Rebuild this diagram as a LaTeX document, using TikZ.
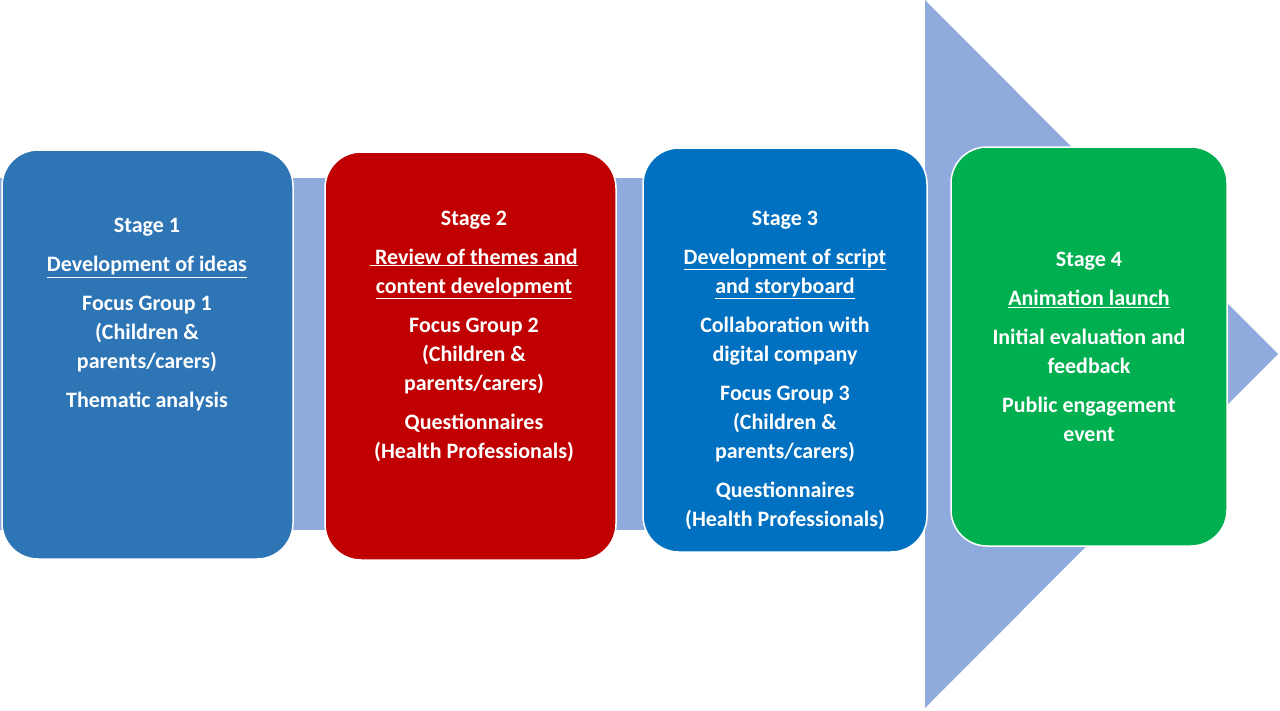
\documentclass[tikz,border=0pt]{standalone}
\usepackage{fontspec}
\setmainfont{Carlito}
\begin{document}
\begin{tikzpicture}[x=1pt,y=-1pt,
  box/.style={draw=white,line width=1.5pt,rounded corners=36pt},
  txt/.style={text=white,align=center,font=\bfseries\fontsize{22}{29}\selectfont}]
\definecolor{arr}{RGB}{143,170,220}
\definecolor{c1}{RGB}{46,117,182}
\definecolor{c2}{RGB}{192,0,0}
\definecolor{c3}{RGB}{0,112,192}
\definecolor{c4}{RGB}{0,176,80}
\useasboundingbox (0,0) rectangle (1280,710);
\fill[arr] (0,178) rectangle (926,530);
\fill[arr] (925,0) -- (1278,354) -- (925,708) -- cycle;
\filldraw[box,fill=c1] (2,150) rectangle (293,559);
\filldraw[box,fill=c2] (325,152) rectangle (616,560);
\filldraw[box,fill=c3] (643,148) rectangle (927,552);
\filldraw[box,fill=c4] (951,147) rectangle (1227,546);
\node[txt] (t1) at (147,315) {Stage 1\\[10pt]\underline{Development of ideas}\\[10pt]Focus Group 1\\(Children \&\\parents/carers)\\[10pt]Thematic analysis};
\node[txt] (t2) at (474,336) {Stage 2\\[10pt]\underline{\ Review of themes and}\\\underline{content development}\\[10pt]Focus Group 2\\(Children \&\\parents/carers)\\[10pt]Questionnaires\\(Health Professionals)};
\node[txt] (t3) at (785,370) {Stage 3\\[10pt]\underline{Development of script}\\\underline{and storyboard}\\[10pt]Collaboration with\\digital company\\[10pt]Focus Group 3\\(Children \&\\parents/carers)\\[10pt]Questionnaires\\(Health Professionals)};
\node[txt] (t4) at (1089,347) {Stage 4\\[10pt]\underline{Animation launch}\\[10pt]Initial evaluation and\\feedback\\[10pt]Public engagement\\event};
\end{tikzpicture}
\end{document}
